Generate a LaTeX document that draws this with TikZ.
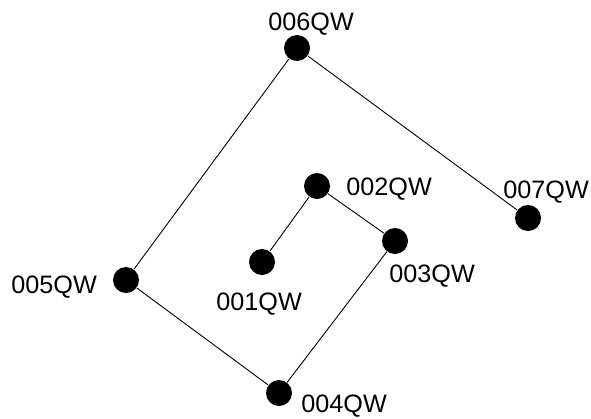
\documentclass[tikz,border=0pt]{standalone}
\usepackage{fontspec}
\setmainfont{Liberation Sans}
\begin{document}
\begin{tikzpicture}[x=1pt, y=-1pt, line width=.9pt,
  dot/.style={circle, fill=black, minimum size=26pt, inner sep=0pt},
  lbl/.style={anchor=base west, inner sep=0pt, font=\fontsize{25.2}{30}\selectfont}]
\useasboundingbox (0,0) rectangle (591,418);

\foreach \n/\x/\y in {001/262/262, 002/317/186, 003/395/241, 004/279/393, 005/126/280, 006/297/48, 007/528/218}
{
   \node[dot] (d\n) at (\x,\y) {};
}
\draw (d001)--(d002)--(d003)--(d004)--(d005)--(d006)--(d007);

\node[lbl] (l006) at (268,30) {006QW};
\node[lbl] (l002) at (346,195) {002QW};
\node[lbl] (l003) at (389,282) {003QW};
\node[lbl] (l001) at (216,310) {001QW};
\node[lbl] (l005) at (11,293) {005QW};
\node[lbl] (l004) at (301,412) {004QW};
\node[lbl] (l007) at (503,198) {007QW};
\end{tikzpicture}
\end{document}
